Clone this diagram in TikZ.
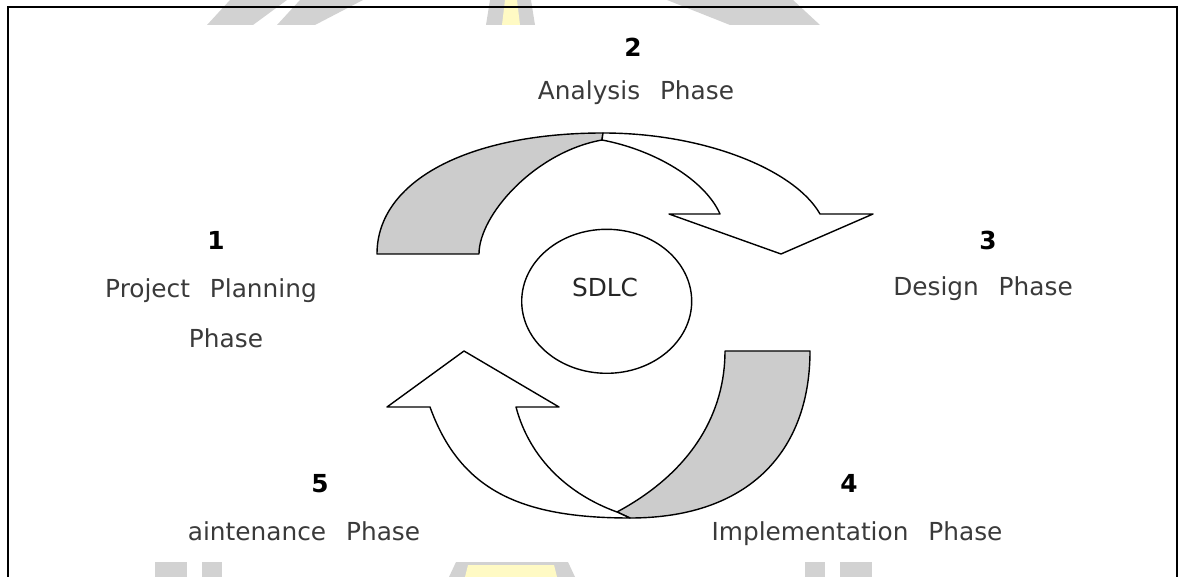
\documentclass[tikz,border=0pt]{standalone}
\usepackage{fontspec}
\setmainfont{DejaVu Sans}
\usepackage{tikz}
\usetikzlibrary{shapes.geometric}
\definecolor{bandgray}{HTML}{CCCCCC}
\definecolor{textgray}{HTML}{3A3A3A}
\definecolor{markgray}{HTML}{D2D2D2}
\definecolor{markyellow}{HTML}{FFFAC4}
\newcommand{\wgap}{\hspace{0.8em}}

\begin{document}
\begin{tikzpicture}[x=0.5pt, y=-0.5pt,
	num/.style={font=\fontsize{12.4}{14}\selectfont\bfseries, anchor=base},
	lbl/.style={font=\fontsize{12.4}{14}\selectfont, text=textgray, anchor=base},
	band/.style={draw=black, line width=0.7pt, line join=round}]
	\useasboundingbox (0,0) rectangle (1179,577);
	% watermark at the edges
	\fill[markgray] (207,25) -- (253,25) -- (287,0) -- (230,0) -- cycle;
	\fill[markgray] (277,25) -- (315,25) -- (363,0) -- (300,0) -- cycle;
	\fill[markgray] (486,25) -- (535,25) -- (531,0) -- (490,0) -- cycle;
	\fill[markyellow] (502,25) -- (520,25) -- (517,0) -- (505,0) -- cycle;
	\fill[markgray] (730,25) -- (820,25) -- (793,0) -- (667,0) -- cycle;
	\fill[markgray] (155,562) rectangle (187,577);
	\fill[markgray] (202,562) rectangle (222,577);
	\fill[markgray] (805,562) rectangle (825,577);
	\fill[markgray] (840,562) rectangle (872,577);
	\fill[markgray] (449,577) -- (575,577) -- (568,562) -- (456,562) -- cycle;
	\fill[markyellow] (465,577) -- (557,577) -- (554,565) -- (468,565) -- cycle;
	% frame
	\draw[line width=1pt] (7.5,590) -- (7.5,7.5) -- (1176.5,7.5) -- (1176.5,590);
	% top arrow
	\filldraw[band, fill=bandgray] (377,254) .. controls (377,180) and (470,133) .. (603,133)
		-- (602,140) .. controls (535,152) and (479,215) .. (479,254) -- cycle;
	\filldraw[band, fill=white] (603,133) .. controls (705,133) and (795,170) .. (820,214)
		-- (873,214) -- (781,254) -- (669,214) -- (720,214)
		.. controls (705,180) and (655,150) .. (602,140) -- cycle;
	% bottom arrow
	\filldraw[band, fill=bandgray] (725,351) -- (810,351) .. controls (810,450) and (750,518) .. (630,518)
		-- (617,512) .. controls (695,470) and (725,410) .. (725,351) -- cycle;
	\filldraw[band, fill=white] (630,518) .. controls (520,518) and (460,490) .. (430,407)
		-- (387,407) -- (464,351) -- (559,407) -- (516,407)
		.. controls (530,460) and (570,495) .. (617,512) -- cycle;
	% centre
	\node[draw, ellipse, line width=0.7pt, inner sep=0pt, minimum width=85pt, minimum height=72pt] (sdlc) at (606.7,301.3) {};
	\node[lbl, text=black!85] (sdlclbl) at (605,297) {SDLC};
	% phases
	\node[num] (num1) at (216,250) {1};
	\node[lbl] (plan1) at (211,298) {Project\wgap Planning};
	\node[lbl] (plan2) at (226,348) {Phase};
	\node[num] (num2) at (633,57) {2};
	\node[lbl] (analysis) at (636,100) {Analysis\wgap Phase};
	\node[num] (num3) at (988,250) {3};
	\node[lbl] (design) at (983,296) {Design\wgap Phase};
	\node[num] (num4) at (849,492) {4};
	\node[lbl] (implement) at (857,540) {Implementation\wgap Phase};
	\node[num] (num5) at (320,493) {5};
	\node[lbl] (maintain) at (304,540) {aintenance\wgap Phase};
\end{tikzpicture}
\end{document}
